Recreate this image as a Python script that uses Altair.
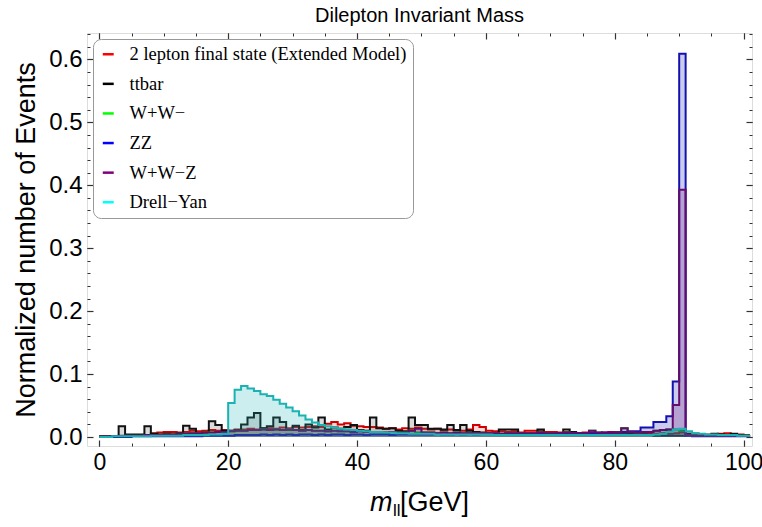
import altair as alt
import pandas as pd

names = ["2 lepton final state (Extended Model)", "ttbar", "W+W\u2212", "ZZ", "W+W\u2212Z", "Drell\u2212Yan"]
legend_colors = ["#ff0000", "#000000", "#00ff00", "#0000ff", "#800080", "#00ffff"]
line_colors = ["#d00000", "#111111", "#00b000", "#1212b0", "#640c6c", "#1ab2b2"]
fill_colors = ["#ff4040", "#555555", "#00c000", "#1212b0", "#6a1070", "#1ab2b2"]

bin_lo = list(range(0, 101))  # 1 GeV bins, lower edges

red_vals = [
    0.001, 0.001, 0.001, 0.002, 0.002, 0.002, 0.003, 0.003, 0.006, 0.007,
    0.008, 0.008, 0.007, 0.008, 0.010, 0.009, 0.010, 0.011, 0.010, 0.011,
    0.010, 0.012, 0.012, 0.013, 0.012, 0.014, 0.014, 0.013, 0.015, 0.014,
    0.016, 0.015, 0.016, 0.017, 0.016, 0.021, 0.024, 0.020, 0.022, 0.018,
    0.017, 0.016, 0.016, 0.015, 0.013, 0.014, 0.012, 0.014, 0.013, 0.015,
    0.013, 0.012, 0.013, 0.011, 0.012, 0.011, 0.010, 0.012, 0.019, 0.016,
    0.010, 0.009, 0.009, 0.008, 0.009, 0.007, 0.010, 0.010, 0.009, 0.008,
    0.008, 0.007, 0.008, 0.007, 0.006, 0.007, 0.006, 0.006, 0.007, 0.008,
    0.008, 0.006, 0.006, 0.005, 0.006, 0.005, 0.005, 0.006, 0.005, 0.006,
    0.007, 0.005, 0.005, 0.004, 0.004, 0.004, 0.005, 0.006, 0.004, 0.004,
    0.003]

ttbar_vals = [
    0.001, 0.001, 0.001, 0.017, 0.004, 0.004, 0.004, 0.017, 0.005, 0.004,
    0.005, 0.004, 0.006, 0.018, 0.013, 0.006, 0.007, 0.025, 0.019, 0.010,
    0.010, 0.011, 0.020, 0.031, 0.038, 0.014, 0.017, 0.031, 0.024, 0.011,
    0.018, 0.011, 0.020, 0.015, 0.031, 0.012, 0.015, 0.013, 0.016, 0.019,
    0.011, 0.010, 0.031, 0.014, 0.013, 0.014, 0.010, 0.009, 0.031, 0.019,
    0.019, 0.013, 0.013, 0.012, 0.019, 0.011, 0.019, 0.010, 0.008, 0.007,
    0.006, 0.005, 0.012, 0.012, 0.012, 0.005, 0.006, 0.005, 0.012, 0.006,
    0.005, 0.006, 0.012, 0.008, 0.005, 0.004, 0.005, 0.004, 0.005, 0.004,
    0.005, 0.004, 0.005, 0.004, 0.004, 0.003, 0.002, 0.002, 0.002, 0.002,
    0.002, 0.005, 0.005, 0.004, 0.003, 0.005, 0.004, 0.003, 0.005, 0.003,
    0.002]

ww_vals = [
    0.001, 0.001, 0.001, 0.001, 0.002, 0.002, 0.002, 0.003, 0.003, 0.003,
    0.004, 0.004, 0.005, 0.005, 0.006, 0.006, 0.007, 0.007, 0.008, 0.008,
    0.009, 0.010, 0.010, 0.011, 0.011, 0.012, 0.011, 0.012, 0.011, 0.012,
    0.011, 0.010, 0.011, 0.010, 0.010, 0.009, 0.010, 0.009, 0.009, 0.008,
    0.009, 0.008, 0.008, 0.008, 0.007, 0.008, 0.007, 0.007, 0.010, 0.007,
    0.007, 0.007, 0.006, 0.007, 0.006, 0.007, 0.006, 0.006, 0.006, 0.006,
    0.006, 0.006, 0.005, 0.006, 0.006, 0.006, 0.005, 0.006, 0.007, 0.006,
    0.006, 0.006, 0.007, 0.006, 0.006, 0.006, 0.010, 0.007, 0.006, 0.006,
    0.007, 0.014, 0.008, 0.007, 0.008, 0.008, 0.010, 0.011, 0.012, 0.012,
    0.010, 0.003, 0.002, 0.002, 0.002, 0.002, 0.002, 0.002, 0.002, 0.002,
    0.002]

zz_vals = [
    0.000, 0.000, 0.000, 0.000, 0.000, 0.001, 0.001, 0.001, 0.001, 0.001,
    0.001, 0.001, 0.001, 0.001, 0.001, 0.001, 0.002, 0.002, 0.002, 0.002,
    0.002, 0.003, 0.003, 0.003, 0.003, 0.004, 0.003, 0.004, 0.003, 0.004,
    0.003, 0.004, 0.004, 0.003, 0.004, 0.003, 0.004, 0.004, 0.003, 0.004,
    0.004, 0.003, 0.004, 0.004, 0.004, 0.003, 0.004, 0.004, 0.004, 0.004,
    0.004, 0.004, 0.005, 0.004, 0.004, 0.005, 0.004, 0.005, 0.004, 0.005,
    0.005, 0.005, 0.004, 0.005, 0.005, 0.005, 0.005, 0.005, 0.006, 0.005,
    0.005, 0.006, 0.005, 0.006, 0.006, 0.006, 0.006, 0.006, 0.007, 0.007,
    0.007, 0.008, 0.009, 0.009, 0.015, 0.015, 0.024, 0.024, 0.033, 0.088,
    0.609, 0.002, 0.001, 0.001, 0.001, 0.001, 0.001, 0.001, 0.001, 0.001,
    0.001]

wwz_vals = [
    0.001, 0.001, 0.001, 0.001, 0.002, 0.002, 0.002, 0.003, 0.003, 0.003,
    0.004, 0.004, 0.005, 0.005, 0.006, 0.006, 0.007, 0.007, 0.008, 0.008,
    0.009, 0.010, 0.010, 0.011, 0.011, 0.012, 0.011, 0.012, 0.011, 0.012,
    0.011, 0.010, 0.011, 0.010, 0.010, 0.009, 0.010, 0.009, 0.009, 0.008,
    0.009, 0.008, 0.008, 0.008, 0.007, 0.008, 0.007, 0.007, 0.010, 0.013,
    0.007, 0.007, 0.006, 0.007, 0.006, 0.007, 0.006, 0.006, 0.006, 0.006,
    0.006, 0.006, 0.005, 0.006, 0.006, 0.006, 0.005, 0.006, 0.007, 0.006,
    0.006, 0.006, 0.007, 0.006, 0.006, 0.006, 0.010, 0.007, 0.006, 0.006,
    0.007, 0.014, 0.008, 0.007, 0.008, 0.008, 0.010, 0.011, 0.012, 0.051,
    0.393, 0.003, 0.002, 0.002, 0.002, 0.002, 0.002, 0.002, 0.002, 0.002,
    0.002]

dy_vals = [
    0.000, 0.000, 0.001, 0.001, 0.001, 0.001, 0.001, 0.001, 0.002, 0.002,
    0.002, 0.002, 0.002, 0.003, 0.003, 0.003, 0.003, 0.004, 0.004, 0.005,
    0.054, 0.075, 0.081, 0.077, 0.073, 0.068, 0.065, 0.059, 0.053, 0.047,
    0.041, 0.034, 0.028, 0.023, 0.019, 0.017, 0.015, 0.013, 0.012, 0.011,
    0.010, 0.009, 0.008, 0.008, 0.007, 0.007, 0.006, 0.006, 0.005, 0.005,
    0.005, 0.005, 0.004, 0.004, 0.004, 0.004, 0.004, 0.004, 0.004, 0.004,
    0.004, 0.003, 0.003, 0.003, 0.003, 0.003, 0.003, 0.003, 0.003, 0.003,
    0.003, 0.003, 0.003, 0.003, 0.003, 0.003, 0.003, 0.003, 0.003, 0.003,
    0.003, 0.003, 0.003, 0.003, 0.003, 0.003, 0.004, 0.005, 0.008, 0.012,
    0.013, 0.009, 0.006, 0.005, 0.004, 0.004, 0.003, 0.003, 0.003, 0.002,
    0.002]

series_vals = [red_vals, ttbar_vals, ww_vals, zz_vals, wwz_vals, dy_vals]

x_major = [0, 20, 40, 60, 80, 100]
x_minor = list(range(0, 101, 5))
y_major = [0.0, 0.1, 0.2, 0.3, 0.4, 0.5, 0.6]
y_minor = [round(0.02 * i, 2) for i in range(0, 33)]

SANS = "Liberation Sans"
SERIF = "Liberation Serif"
TICK = "#333333"

xscale = alt.Scale(domain=[-1.91, 101.3], nice=False, zero=False)
yscale = alt.Scale(domain=[-0.0143, 0.642], nice=False, zero=False)

x_axes = [
    alt.Axis(orient="bottom", values=x_major, tickSize=6, offset=-6, domain=False, grid=False,
             labelFont=SANS, labelFontSize=23, labelColor="black", labelPadding=5,
             tickColor=TICK, tickWidth=1.2, title=None),
    alt.Axis(orient="bottom", values=x_minor, tickSize=3, offset=-3, domain=False, grid=False,
             labels=False, tickColor=TICK, tickWidth=1, title=None),
    alt.Axis(orient="top", values=x_major, tickSize=6, offset=-6, domain=False, grid=False,
             labels=False, tickColor=TICK, tickWidth=1.2, title=None),
    alt.Axis(orient="top", values=x_minor, tickSize=3, offset=-3, domain=False, grid=False,
             labels=False, tickColor=TICK, tickWidth=1, title=None),
]
y_axes = [
    alt.Axis(orient="left", values=y_major, format=".1f", tickSize=6, offset=-6, domain=False,
             grid=False, labelFont=SANS, labelFontSize=24, labelColor="black", labelPadding=5,
             tickColor=TICK, tickWidth=1.2, title="Normalized number of Events",
             titleFont=SANS, titleFontSize=27, titleFontWeight="normal", titleColor="black",
             titlePadding=8),
    alt.Axis(orient="left", values=y_minor, tickSize=3, offset=-3, domain=False, grid=False,
             labels=False, tickColor=TICK, tickWidth=1, title=None),
    alt.Axis(orient="right", values=y_major, tickSize=6, offset=-6, domain=False, grid=False,
             labels=False, tickColor=TICK, tickWidth=1.2, title=None),
    alt.Axis(orient="right", values=y_minor, tickSize=3, offset=-3, domain=False, grid=False,
             labels=False, tickColor=TICK, tickWidth=1, title=None),
]


def step_frame(vals):
    xs = bin_lo + [bin_lo[-1] + 1]
    ys = list(vals) + [vals[-1]]
    return pd.DataFrame({"x": xs, "y": ys})


layers = []
k = 0
for name, vals, lc, fc in zip(names, series_vals, line_colors, fill_colors):
    df = step_frame(vals)
    for kind in ("area", "line"):
        xa = x_axes[k] if k < 4 else None
        ya = y_axes[k] if k < 4 else None
        enc = dict(
            x=alt.X("x:Q", scale=xscale, axis=xa),
            y=alt.Y("y:Q", scale=yscale, axis=ya),
        )
        if kind == "area":
            ch = alt.Chart(df).mark_area(interpolate="step-after", color=fc, opacity=0.22).encode(
                y2=alt.datum(0), **enc)
        else:
            ch = alt.Chart(df).mark_line(interpolate="step-after", color=lc, strokeWidth=2).encode(**enc)
        layers.append(ch)
        k += 1

legend_df = pd.DataFrame({"series": names, "x": [0] * 6, "y": [0] * 6})
legend_layer = alt.Chart(legend_df).mark_line(strokeWidth=2.5).encode(
    x=alt.X("x:Q", scale=xscale, axis=None),
    y=alt.Y("y:Q", scale=yscale, axis=None),
    color=alt.Color("series:N", scale=alt.Scale(domain=names, range=legend_colors),
                    legend=alt.Legend(title=None, orient="top-left", offset=6, padding=6,
                                      fillColor="white", strokeColor="#999999", cornerRadius=8,
                                      labelFont=SERIF, labelFontSize=18.5, labelColor="black",
                                      labelLimit=400, symbolType="stroke", symbolSize=120,
                                      symbolStrokeWidth=2.5, rowPadding=10.6, labelOffset=12)),
)
layers.append(legend_layer)

one = pd.DataFrame({"a": [0]})
t_m = alt.Chart(one).mark_text(text="m", font=SANS, fontSize=27, fontStyle="italic",
                               align="left", baseline="alphabetic", color="black").encode(
    x=alt.value(283), y=alt.value(478))
t_ll = alt.Chart(one).mark_text(text="ll", font=SANS, fontSize=17, align="left",
                                baseline="alphabetic", color="black").encode(
    x=alt.value(306), y=alt.value(483))
t_gev = alt.Chart(one).mark_text(text="[GeV]", font=SANS, fontSize=27, align="left",
                                 baseline="alphabetic", color="black").encode(
    x=alt.value(313), y=alt.value(478))
layers += [t_m, t_ll, t_gev]

chart = alt.layer(*layers).resolve_axis(x="independent", y="independent").properties(
    width=665, height=413,
    title=alt.TitleParams("Dilepton Invariant Mass", font=SANS, fontSize=20,
                          fontWeight="normal", color="black", offset=6, anchor="middle"),
    autosize=alt.AutoSizeParams(type="none"),
    padding={"left": 87, "top": 33, "right": 10, "bottom": 81},
).configure_view(stroke="#333333", strokeWidth=1.6).configure(background="white")

chart.save("out.html", embed_options={"renderer": "svg", "actions": False})
